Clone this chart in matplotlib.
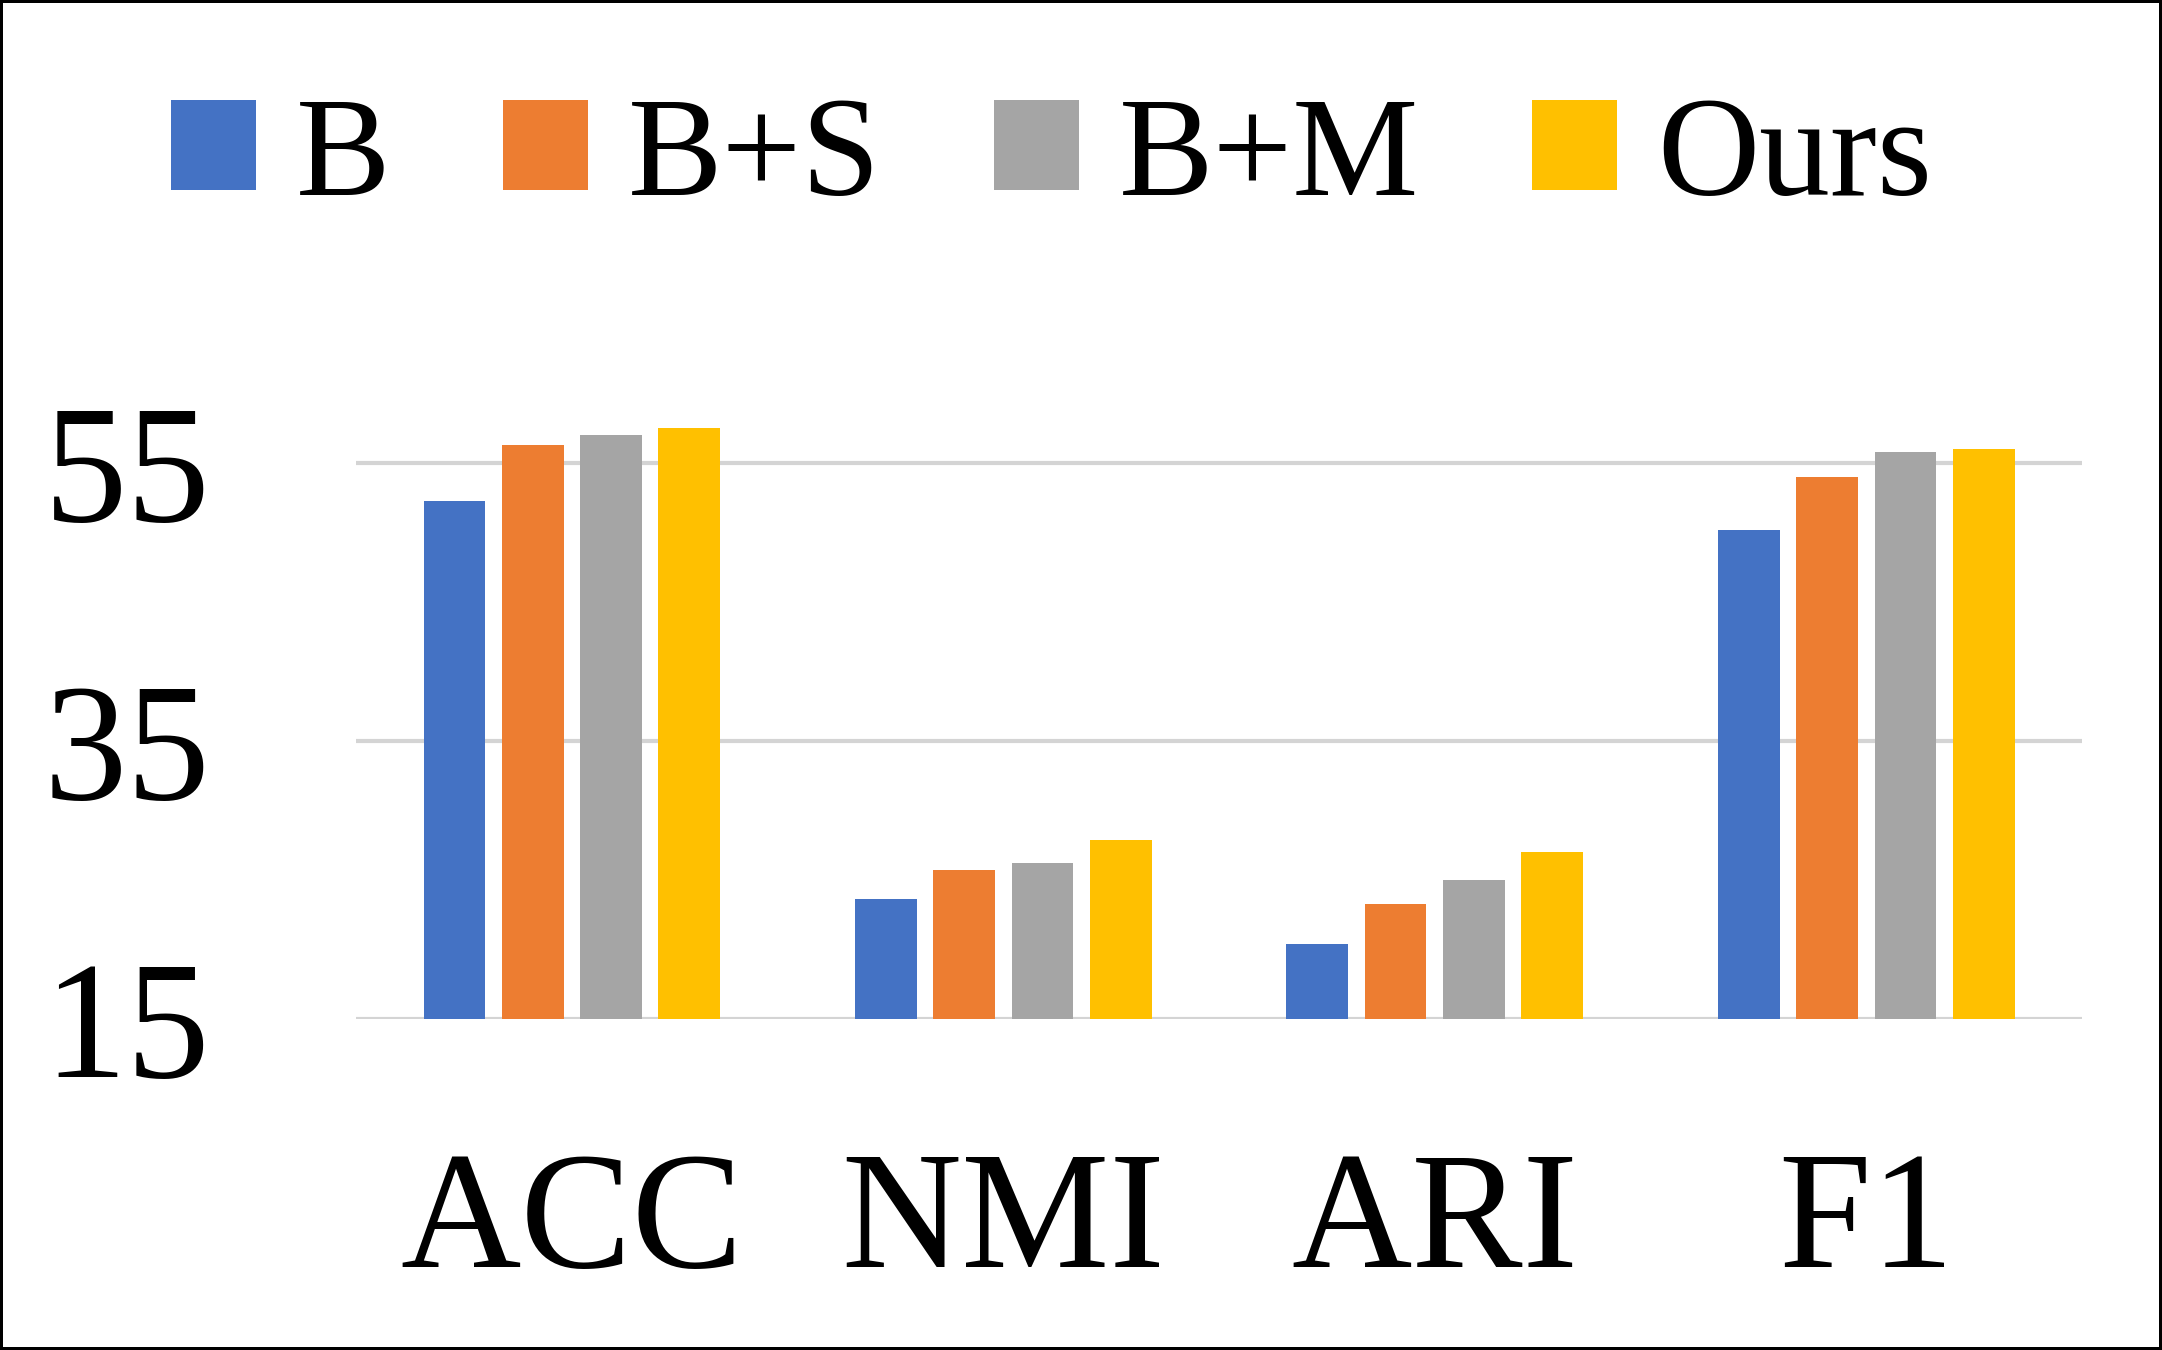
import matplotlib.pyplot as plt
import numpy as np

# data
categories = ["ACC", "NMI", "ARI", "F1"]
series_names = ["B", "B+S", "B+M", "Ours"]
b_vals = [52.3, 23.6, 20.4, 50.2]
bs_vals = [56.3, 25.7, 23.3, 54.0]
bm_vals = [57.0, 26.2, 25.0, 55.8]
ours_vals = [57.5, 27.9, 27.0, 56.0]
yticks = [15, 35, 55]

colors = ["#4472C4", "#ED7D31", "#A5A5A5", "#FFC000"]

plt.rcParams["font.family"] = ["Liberation Serif", "DejaVu Serif"]

fig = plt.figure(figsize=(21.62, 13.5), dpi=100)
fig.patch.set_edgecolor("black")
fig.patch.set_linewidth(3)
ax = fig.add_axes([0.1647, 0.2452, 0.7983, 0.4633])

x = np.arange(len(categories))
width = 0.143
pitch = 0.1815
all_vals = [b_vals, bs_vals, bm_vals, ours_vals]
for i, vals in enumerate(all_vals):
    offset = (i - 1.5) * pitch
    ax.bar(x + offset, np.array(vals) - 15, width, bottom=15,
           color=colors[i], label=series_names[i], zorder=3)

ax.set_xlim(-0.5, 3.5)
ax.set_ylim(15, 60)
ax.set_yticks(yticks)
ax.set_yticklabels([str(t) for t in yticks], fontsize=120)
ax.set_xticks(x)
ax.set_xticklabels(categories, fontsize=120)
ax.tick_params(axis="y", length=0, pad=105)
ax.tick_params(axis="x", length=0, pad=95)
ax.grid(axis="y", color="#D4D4D4", linewidth=3, zorder=0)
for s in ax.spines.values():
    s.set_visible(False)

fig.legend(loc="upper left", bbox_to_anchor=(0.02, 1.023), ncol=4,
           frameon=False, fontsize=102, handlelength=0.6, handleheight=0.6,
           handletextpad=0.28, columnspacing=0.8)

plt.savefig("out.png", dpi=100)
